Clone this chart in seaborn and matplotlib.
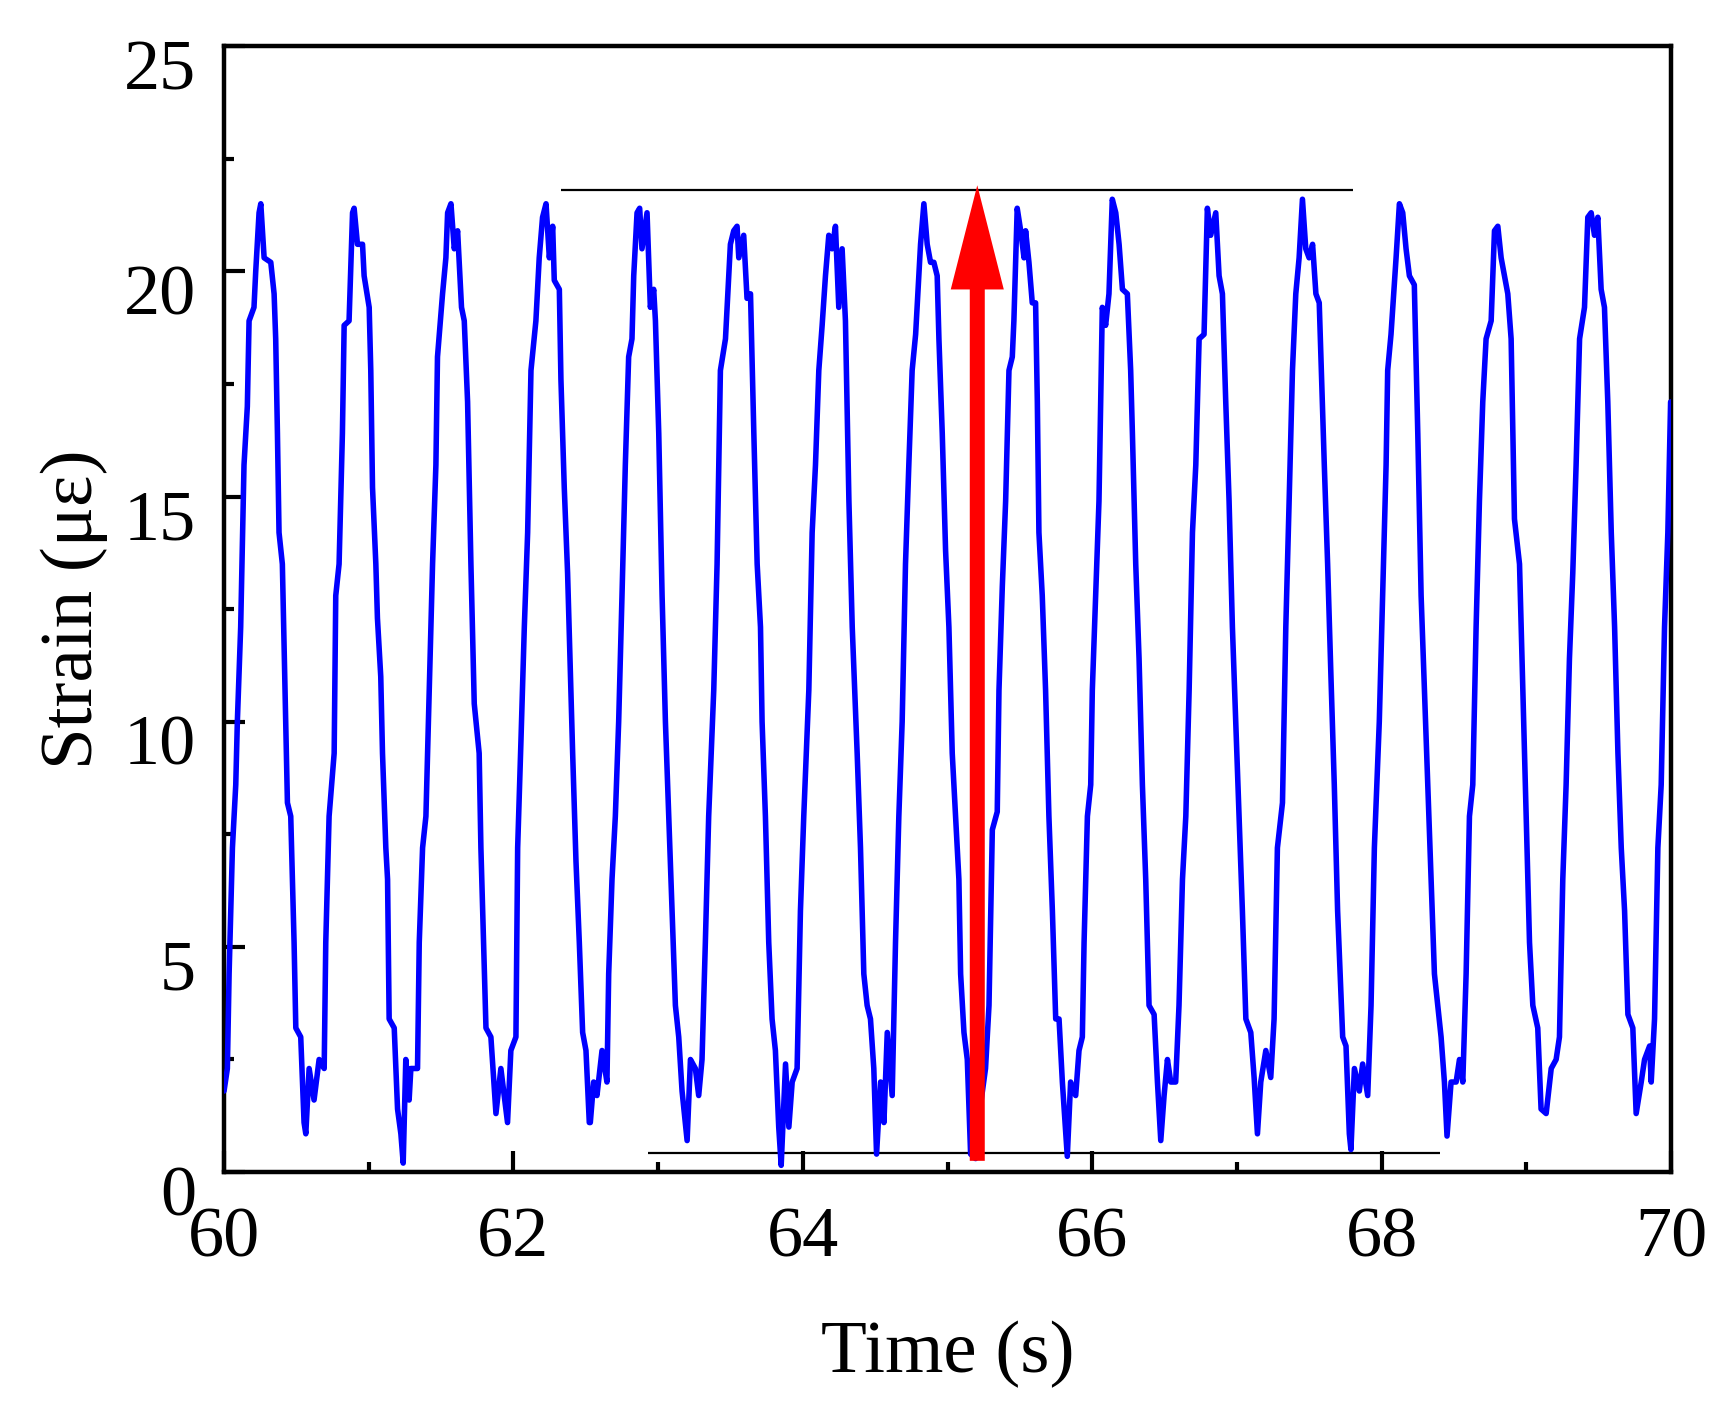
import matplotlib
matplotlib.use('Agg')
import matplotlib.pyplot as plt
import matplotlib.transforms as mtransforms
from matplotlib.ticker import MultipleLocator
import seaborn as sns
import pandas as pd

# strain signal, in four pieces (60-62.5 s, 62.5-65 s, 65-67.6 s, 67.6-70 s)
t_a = [60.000, 60.023, 60.035, 60.058, 60.081, 60.092, 60.115, 60.138, 60.161, 60.173,
       60.207, 60.219, 60.242, 60.254, 60.277, 60.323, 60.346, 60.357, 60.369, 60.380,
       60.403, 60.426, 60.438, 60.461, 60.484, 60.496, 60.530, 60.553, 60.565, 60.588,
       60.622, 60.657, 60.692, 60.703, 60.726, 60.761, 60.772, 60.795, 60.818, 60.830,
       60.864, 60.888, 60.899, 60.922, 60.957, 60.968, 61.003, 61.014, 61.026, 61.049,
       61.060, 61.083, 61.095, 61.118, 61.130, 61.141, 61.176, 61.199, 61.222, 61.238,
       61.256, 61.279, 61.291, 61.337, 61.349, 61.372, 61.395, 61.418, 61.441, 61.464,
       61.475, 61.510, 61.533, 61.545, 61.568, 61.591, 61.614, 61.641, 61.660, 61.683,
       61.706, 61.729, 61.763, 61.775, 61.810, 61.844, 61.879, 61.913, 61.959, 61.982,
       62.017, 62.029, 62.052, 62.075, 62.098, 62.121, 62.155, 62.178, 62.201, 62.225,
       62.248, 62.271, 62.282, 62.317, 62.328, 62.351, 62.374, 62.409, 62.432, 62.455,
       62.478, 62.501, 62.524]
s_a = [1.8, 2.3, 4.4, 7.2, 8.6, 10.0, 12.1, 15.7, 17.0, 18.9,
       19.2, 20.0, 21.3, 21.5, 20.3, 20.2, 19.5, 18.5, 16.4, 14.2,
       13.5, 10.0, 8.2, 7.9, 5.1, 3.2, 3.0, 1.1, 0.85, 2.3,
       1.6, 2.5, 2.3, 5.1, 7.9, 9.3, 12.8, 13.5, 16.4, 18.8,
       18.9, 21.3, 21.4, 20.6, 20.6, 19.9, 19.2, 17.8, 15.2, 13.5,
       12.3, 11.0, 9.3, 7.2, 6.5, 3.4, 3.2, 1.4, 0.85, 0.2,
       2.5, 1.6, 2.3, 2.3, 5.1, 7.2, 7.9, 10.7, 13.5, 15.7,
       18.1, 19.5, 20.3, 21.3, 21.5, 20.5, 20.9, 19.2, 18.9, 17.1,
       13.5, 10.4, 9.3, 7.2, 3.2, 3.0, 1.3, 2.3, 1.1, 2.7,
       3.0, 7.2, 9.6, 12.1, 14.2, 17.8, 18.9, 20.3, 21.2, 21.5,
       20.3, 21.0, 19.8, 19.6, 17.6, 15.2, 13.3, 9.3, 6.9, 5.1,
       3.1, 2.7, 1.1]

t_b = [62.531, 62.554, 62.577, 62.612, 62.646, 62.658, 62.681, 62.704, 62.727, 62.750,
       62.773, 62.796, 62.819, 62.831, 62.854, 62.872, 62.888, 62.923, 62.946, 62.969,
       62.981, 63.004, 63.027, 63.050, 63.073, 63.096, 63.119, 63.142, 63.165, 63.200,
       63.223, 63.257, 63.280, 63.303, 63.326, 63.349, 63.384, 63.407, 63.430, 63.465,
       63.499, 63.522, 63.545, 63.557, 63.591, 63.614, 63.638, 63.661, 63.684, 63.707,
       63.718, 63.741, 63.764, 63.787, 63.810, 63.833, 63.850, 63.880, 63.903, 63.926,
       63.960, 63.983, 64.006, 64.041, 64.064, 64.087, 64.110, 64.133, 64.156, 64.179,
       64.202, 64.225, 64.248, 64.271, 64.294, 64.318, 64.341, 64.375, 64.398, 64.421,
       64.444, 64.467, 64.490, 64.509, 64.537, 64.560, 64.583, 64.617, 64.640, 64.663,
       64.686, 64.709, 64.732, 64.755, 64.779, 64.813, 64.836, 64.859, 64.882, 64.905,
       64.928, 64.940, 64.963, 64.986, 65.009, 65.032]
s_b = [1.1, 2.0, 1.7, 2.7, 2.0, 4.4, 6.5, 7.9, 10.0, 12.8,
       15.7, 18.1, 18.5, 19.9, 21.3, 21.4, 20.5, 21.3, 19.2, 19.6,
       18.9, 16.4, 12.8, 10.0, 7.9, 5.8, 3.7, 3.0, 1.8, 0.7,
       2.5, 2.3, 1.7, 2.5, 5.1, 7.9, 10.7, 13.5, 17.8, 18.5,
       20.6, 20.9, 21.0, 20.3, 20.8, 19.4, 19.5, 16.4, 13.5, 12.1,
       10.0, 7.9, 5.1, 3.4, 2.7, 1.0, 0.15, 2.4, 1.0, 2.0,
       2.3, 5.8, 7.9, 10.7, 14.2, 15.7, 17.8, 18.8, 19.9, 20.8,
       20.5, 21.0, 19.2, 20.5, 18.9, 14.9, 12.1, 9.3, 7.2, 4.4,
       3.7, 3.4, 2.3, 0.4, 2.0, 1.1, 3.1, 1.7, 5.1, 7.9,
       10.0, 13.5, 15.7, 17.8, 18.6, 20.6, 21.5, 20.6, 20.2, 20.2,
       19.9, 18.5, 16.4, 13.8, 12.1, 9.3]

t_c = [65.078, 65.090, 65.113, 65.136, 65.159, 65.193, 65.228, 65.262, 65.286, 65.309,
       65.343, 65.355, 65.378, 65.401, 65.424, 65.447, 65.458, 65.481, 65.505, 65.528,
       65.539, 65.562, 65.585, 65.608, 65.620, 65.631, 65.654, 65.677, 65.700, 65.724,
       65.747, 65.770, 65.793, 65.827, 65.850, 65.885, 65.908, 65.931, 65.943, 65.966,
       65.989, 66.000, 66.023, 66.046, 66.069, 66.092, 66.115, 66.138, 66.162, 66.185,
       66.208, 66.242, 66.265, 66.277, 66.300, 66.323, 66.346, 66.369, 66.392, 66.427,
       66.450, 66.473, 66.496, 66.519, 66.542, 66.576, 66.599, 66.623, 66.646, 66.669,
       66.692, 66.715, 66.738, 66.772, 66.795, 66.818, 66.853, 66.876, 66.899, 66.922,
       66.945, 66.968, 66.991, 67.014, 67.037, 67.061, 67.095, 67.118, 67.141, 67.164,
       67.199, 67.233, 67.256, 67.279, 67.314, 67.337, 67.360, 67.383, 67.406, 67.429,
       67.452, 67.475, 67.498, 67.522, 67.545, 67.568]
s_c = [6.5, 4.4, 3.1, 2.5, 0.4, 0.3, 1.5, 2.3, 3.7, 7.6,
       8.0, 10.7, 13.0, 14.9, 17.8, 18.1, 18.9, 21.4, 20.9, 20.3,
       20.9, 20.2, 19.3, 19.3, 17.1, 14.2, 12.8, 10.7, 7.9, 5.8,
       3.4, 3.4, 2.0, 0.35, 2.0, 1.7, 2.7, 3.0, 5.1, 7.9,
       8.6, 10.7, 12.8, 14.9, 19.2, 18.8, 19.5, 21.6, 21.3, 20.6,
       19.6, 19.5, 17.8, 16.4, 13.5, 11.4, 8.6, 6.5, 3.7, 3.5,
       2.0, 0.7, 1.7, 2.5, 2.0, 2.0, 3.7, 6.5, 7.9, 10.7,
       14.2, 15.7, 18.5, 18.6, 21.4, 20.8, 21.3, 19.9, 19.5, 17.1,
       14.9, 12.1, 10.0, 7.9, 5.8, 3.4, 3.1, 2.1, 0.85, 2.0,
       2.7, 2.1, 3.4, 7.2, 8.2, 12.1, 14.9, 17.8, 19.5, 20.3,
       21.6, 20.5, 20.3, 20.6, 19.5, 19.3]

t_d = [67.603, 67.626, 67.649, 67.672, 67.695, 67.730, 67.753, 67.776, 67.787, 67.811,
       67.845, 67.868, 67.903, 67.926, 67.949, 67.983, 68.006, 68.030, 68.041, 68.064,
       68.099, 68.122, 68.145, 68.168, 68.191, 68.225, 68.249, 68.272, 68.295, 68.318,
       68.341, 68.364, 68.387, 68.410, 68.433, 68.451, 68.479, 68.514, 68.537, 68.560,
       68.583, 68.606, 68.629, 68.652, 68.675, 68.698, 68.721, 68.756, 68.779, 68.802,
       68.825, 68.848, 68.871, 68.894, 68.917, 68.952, 68.975, 68.998, 69.021, 69.044,
       69.078, 69.101, 69.136, 69.171, 69.205, 69.228, 69.251, 69.274, 69.297, 69.320,
       69.343, 69.367, 69.401, 69.424, 69.447, 69.470, 69.493, 69.516, 69.539, 69.562,
       69.586, 69.609, 69.632, 69.655, 69.678, 69.701, 69.735, 69.758, 69.793, 69.816,
       69.851, 69.862, 69.885, 69.908, 69.931, 69.954, 69.977, 69.996]
s_d = [15.7, 13.5, 11.0, 8.6, 5.8, 3.0, 2.8, 0.85, 0.5, 2.3,
       1.8, 2.4, 1.7, 3.7, 7.2, 10.0, 12.8, 15.7, 17.8, 18.6,
       20.3, 21.5, 21.3, 20.5, 19.9, 19.7, 16.4, 12.8, 10.7, 8.6,
       6.5, 4.4, 3.7, 3.0, 2.0, 0.8, 2.0, 2.0, 2.5, 2.0,
       4.4, 7.9, 8.6, 12.1, 14.9, 17.1, 18.5, 18.9, 20.9, 21.0,
       20.3, 19.9, 19.5, 18.5, 14.5, 13.5, 10.7, 7.9, 5.1, 3.7,
       3.2, 1.4, 1.3, 2.3, 2.5, 3.0, 6.5, 8.6, 11.4, 13.3,
       15.7, 18.5, 19.2, 21.2, 21.3, 20.8, 21.2, 19.6, 19.2, 17.1,
       14.2, 12.1, 9.3, 7.2, 5.8, 3.5, 3.2, 1.3, 2.0, 2.5,
       2.8, 2.0, 3.4, 7.2, 8.6, 12.1, 14.2, 17.1]

# reference lines (max / min level) and the red arrow
upper_line = (21.81, 62.33, 67.80)
lower_line = (0.42, 62.93, 68.40)
arrow_t = 65.205
arrow_from = 0.25
arrow_to = 21.91

df = pd.DataFrame({'time': t_a + t_b + t_c + t_d,
                   'strain': s_a + s_b + s_c + s_d})

sns.set_style('ticks')
plt.rcParams['font.family'] = ['Liberation Serif', 'DejaVu Serif']
plt.rcParams['text.color'] = 'black'
plt.rcParams['axes.labelcolor'] = 'black'

fig = plt.figure(figsize=(17.3, 14.19), dpi=100)
ax = fig.add_axes([0.1295, 0.174, 0.8365, 0.7935])

ax.hlines(upper_line[0], upper_line[1], upper_line[2], color='black', lw=1.6, zorder=2)
ax.hlines(lower_line[0], lower_line[1], lower_line[2], color='black', lw=1.6, zorder=2)

sns.lineplot(data=df, x='time', y='strain', ax=ax, color='#0000ff', lw=4.0,
             estimator=None, sort=False, zorder=3)

ax.annotate('', xy=(arrow_t, arrow_to), xytext=(arrow_t, arrow_from),
            arrowprops=dict(arrowstyle='simple,head_length=7.5,head_width=3.82,tail_width=1.08',
                            mutation_scale=10, fc='red', ec='none', lw=0,
                            shrinkA=0, shrinkB=0),
            zorder=5)

ax.set_xlim(60, 70)
ax.set_ylim(0, 25)
ax.xaxis.set_major_locator(MultipleLocator(2))
ax.xaxis.set_minor_locator(MultipleLocator(1))
ax.yaxis.set_major_locator(MultipleLocator(5))
ax.yaxis.set_minor_locator(MultipleLocator(2.5))

for sp in ax.spines.values():
    sp.set_linewidth(3.2)
    sp.set_color('black')

ax.tick_params(which='both', direction='in', top=False, right=False, width=3,
               color='black', labelcolor='black')
ax.tick_params(which='major', length=15)
ax.tick_params(which='minor', length=7.5)
ax.tick_params(axis='x', which='major', labelsize=52, pad=25)
ax.tick_params(axis='y', which='major', labelsize=52, pad=20)

ax.set_xlabel('Time (s)', fontsize=54)
ax.set_ylabel('Strain (\u03bc\u03b5)', fontsize=54)
ax.xaxis.set_label_coords(0.5, -0.132)
ax.yaxis.set_label_coords(-0.080, 0.5)

# y tick labels sit a little below their ticks in the original
offset = mtransforms.ScaledTranslation(0, -0.18, fig.dpi_scale_trans)
for lab in ax.get_yticklabels():
    lab.set_transform(lab.get_transform() + offset)

fig.savefig('out.png', dpi=100)
